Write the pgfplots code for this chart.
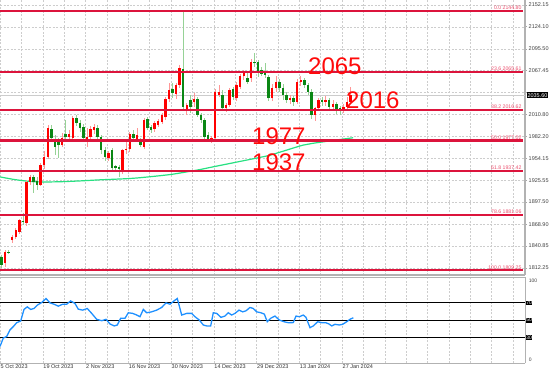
\documentclass[border=0pt]{standalone}
\usepackage{pgfplots}
\pgfplotsset{compat=1.18}
\usepackage{pgfplotstable}
\usepackage{fontspec}
\setmainfont{Liberation Sans}

\definecolor{bullc}{RGB}{255,0,0}
\definecolor{bullw}{RGB}{255,150,150}
\definecolor{bearc}{RGB}{10,135,20}
\definecolor{bearw}{RGB}{150,210,150}
\definecolor{fibc}{RGB}{220,20,60}
\definecolor{fibt}{RGB}{235,80,110}
\definecolor{rsic}{RGB}{30,144,255}
\definecolor{mac}{RGB}{40,225,130}
\definecolor{gridc}{RGB}{205,205,205}
\definecolor{annot}{RGB}{255,10,10}

\pgfplotstableread{
k O H L C
0 1826.8 1829 1812 1816.1
1 1818.3 1835.5 1814 1833.3
2 1833 1835 1830 1832.5
3 1848.4 1855 1845 1852.7
4 1852.7 1864 1850 1861.4
5 1859 1876 1856 1874.3
6 1873.4 1883 1868 1872
7 1870 1926 1866 1923.8
8 1923.8 1933 1920 1929.9
9 1929.9 1933 1909 1923.8
10 1925 1930 1913 1920
11 1920 1948 1918 1945.4
12 1945.4 1963 1940 1956.1
13 1956 1997 1953 1992.8
14 1991.5 1997 1975 1979.9
15 1978.6 1984 1958 1969
16 1977.7 1980 1954 1971.2
17 1971 1987 1968 1980
18 1986 2003 1979 1982
19 1982 1990 1978 1985
20 1979.9 2009 1977 2005.7
21 2006 2010 1996 1999.6
22 1999.6 2003 1988 1993
23 1995 1998 1977 1980
24 1979 1993 1969 1982
25 1981 1996 1976 1991.5
26 1990.6 1998 1986 1994.9
27 1993.2 1997 1978 1981.5
28 1981.5 1984 1960 1964.8
29 1964.8 1968 1950 1955.7
30 1954 1963 1950 1961.3
31 1964.8 1967 1938 1941.1
32 1944 1946 1936.7 1941.5
33 1942.8 1945 1930 1940.2
34 1938.9 1966 1934 1964.8
35 1964.8 1975 1960 1966
36 1966 1988 1962 1985
37 1985 1990 1977 1979.9
38 1978.9 1993 1975 1984
39 1977.7 1980 1968 1971.2
40 1969 2006 1966 2003.5
41 2004.4 2008 1990 1992.8
42 1994.9 1997 1987 1990.6
43 1991.5 2002 1988 1999.2
44 1997 2005 1994 2002.6
45 2001.3 2013 1998 2010
46 2007 2033 2004 2030.3
47 2030.3 2051.3 2027 2042.3
48 2043.2 2051 2032 2038
49 2037.1 2052 2031 2048.8
50 2048.8 2074 2045 2070.3
51 2070 2146 2016 2020.7
52 2016.4 2026 2010 2022.9
53 2029.4 2035.8 2012 2020.7
54 2027.2 2038 2020.7 2030.7
55 2030.7 2033 2008 2010
56 2010 2012 2000 2003.5
57 2003.5 2006 1978 1981.9
58 1984 1988 1976 1979
59 1979 1983 1973.4 1980
60 1980 2043 1976 2040.1
61 2035.8 2048.8 2033 2040.1
62 2035.8 2042 2015 2018.6
63 2018.6 2026 2014 2022.9
64 2023 2045 2020 2042.3
65 2043.2 2046 2030 2033.6
66 2031.6 2052 2028 2048.8
67 2046.5 2063 2044 2060.4
68 2060 2068 2055 2064
69 2057.8 2066 2050 2053
70 2057.4 2082 2053 2078.9
71 2078.9 2090 2072 2076.8
72 2078.5 2081 2059.5 2066
73 2068.1 2072 2060 2063
74 2066 2076.8 2057.4 2061.7
75 2059.5 2062 2028 2031.6
76 2031.6 2050 2028 2044.5
77 2044.5 2060 2040 2052.6
78 2052.6 2057 2040 2044.9
79 2044.9 2050 2030 2035.8
80 2035.8 2040 2025 2029.4
81 2029.4 2036 2024 2032
82 2032 2035 2022 2027.2
83 2027.2 2057 2024 2052.6
84 2052.6 2060 2047 2055.2
85 2055.2 2058 2045 2048.8
86 2048.8 2052 2036 2040.1
87 2040.1 2043 2005 2010
88 2010 2020 2002 2018.6
89 2018.6 2032 2015 2029.4
90 2029.4 2033 2022 2026.8
91 2026.8 2035 2022 2029.4
92 2029.4 2032 2017 2020.7
93 2020.7 2030 2016 2024.2
94 2024.2 2027 2011 2016.4
95 2019 2022 2010 2015.5
96 2016.4 2024 2012 2020.7
97 2020.7 2033 2017 2027.2
98 2027.2 2046 2024 2035.6
}\candles

\pgfplotstableread{
k ma
-0.42 1930
3.8 1926.5
8.84 1923.8
13.6 1923.5
18.1 1924
22.9 1925
27.6 1926.2
36.9 1928.2
46.2 1932.4
50.1 1935
55.7 1939.5
59.4 1943
68.9 1951.8
75.4 1958
78.2 1962
84.6 1971
87.4 1973.4
94.1 1977.7
98.7 1980.6
}\mavg

\pgfplotstableread{
k r
-0.42 19.3
0.51 29
1.46 30.8
2.39 38.5
3.31 42.3
4.27 46.9
5.39 48.8
6.32 62.3
7.24 65.3
8.2 62.3
9.12 63.4
10.05 67.3
11.28 70.3
12.49 75
13.61 69.9
14.74 68.4
15.94 66.1
17.18 68.4
18.3 68.4
19.42 72.2
20.63 69.2
21.56 62.6
22.79 61.5
24.08 63.4
25.32 57.7
26.72 50.8
28.13 49.2
29.33 50.8
30.46 45.4
31.66 43.1
32.5 44.2
33.46 52
34.67 52
35.59 58.4
36.83 57.7
37.95 55.8
38.88 53.8
39.8 62.3
40.76 58.4
42.16 59.5
43.56 61.5
44.97 64.6
46.18 69.9
47.3 68.4
48.42 72.2
49.35 75
50.58 55.8
51.99 57.7
53.39 57.7
54.32 53.8
55.52 50
56.65 44.2
57.6 43.1
58.72 43.1
59.45 58.4
60.41 57.7
61.61 53.1
62.74 54.6
63.66 58.4
64.62 55.8
65.54 57.7
66.67 61.5
67.71 59.5
68.63 60.7
69.75 64.6
70.68 63.4
71.64 59.5
72.84 58.4
73.77 56.9
74.61 48
75.56 52
76.77 54.6
77.98 50
79.3 48
80.5 46.9
81.91 47
82.67 54.6
83.59 53.8
84.72 55.8
85.47 53.1
86.6 41.1
87.52 43.1
88.76 48
89.88 46.9
91 46.9
91.93 45.4
92.69 43.1
93.61 45
94.82 44.2
95.77 45
96.9 48
97.82 50.8
98.75 52.6
}\rsi

\pgfplotsset{
  wick/.style={draw=none, mark=none, forget plot,
    error bars/y dir=both, error bars/y explicit, error bars/error mark=none,
    error bars/error bar style={draw=#1, line width=0.6pt, solid}},
  body/.style={draw=none, mark=none, forget plot,
    error bars/y dir=plus, error bars/y explicit, error bars/error mark=none,
    error bars/error bar style={draw=#1, line width=2.4pt, solid}},
}

\begin{document}
\begin{tikzpicture}
\useasboundingbox (0pt,0pt) rectangle (554pt,-376pt);
\begin{axis}[
  at={(0pt,0pt)}, anchor=north west,
  width=525pt, height=275pt, scale only axis,
  xmin=-0.42, xmax=146.95, ymin=1803.2, ymax=2158.61,
  axis x line*=bottom, axis y line*=right,
  axis line style={draw=gray!60, line width=1.2pt},
  xtick={-0.42,5.58,...,143.58}, xticklabels={},
  ytick={2152.15,2124.10,2095.50,2067.45,2039.10,2010.80,1982.20,1954.15,1925.55,1897.50,1868.90,1840.85,1812.25},
  yticklabels={2152.15,2124.10,2095.50,2067.45,,2010.80,1982.20,1954.15,1925.55,1897.50,1868.90,1840.85,1812.25},
  yticklabel style={font=\fontsize{5.5}{6}\selectfont, text=black!75, inner sep=0pt, xshift=1.5pt},
  major tick length=2pt, tick style={draw=gray!70, line width=0.5pt}, tick align=outside,
  x tick style={draw=none},
  xmajorgrids, ymajorgrids,
  grid style={draw=gridc, dash pattern=on 2pt off 1.5pt, line width=0.4pt},
]
% current price line
\addplot[gray!40, line width=0.6pt] coordinates {(-0.42,2035.6) (146.95,2035.6)};
% moving average
\addplot[mac, line width=1.2pt, smooth] table[x=k, y=ma] {\mavg};
% wicks
\addplot[wick=bullw, restrict expr to domain={\thisrow{C}-\thisrow{O}}{0:10000}]
  table[x=k, y expr={(\thisrow{H}+\thisrow{L})/2}, y error expr={(\thisrow{H}-\thisrow{L})/2}] {\candles};
\addplot[wick=bearw, restrict expr to domain={\thisrow{C}-\thisrow{O}}{-10000:-0.0001}]
  table[x=k, y expr={(\thisrow{H}+\thisrow{L})/2}, y error expr={(\thisrow{H}-\thisrow{L})/2}] {\candles};
% bodies
\addplot[body=bullc, restrict expr to domain={\thisrow{C}-\thisrow{O}}{0:10000}]
  table[x=k, y=O, y error expr={max(\thisrow{C}-\thisrow{O},0.8)}] {\candles};
\addplot[body=bearc, restrict expr to domain={\thisrow{C}-\thisrow{O}}{-10000:-0.0001}]
  table[x=k, y=C, y error expr={max(\thisrow{O}-\thisrow{C},0.8)}] {\candles};
% fibonacci levels
\addplot[fibc, line width=2.2pt] coordinates {(-0.42,2144.80) (146.4,2144.80)};
\addplot[fibc, line width=2.2pt] coordinates {(-0.42,2065.61) (146.4,2065.61)};
\addplot[fibc, line width=2.2pt] coordinates {(-0.42,2016.62) (146.4,2016.62)};
\addplot[fibc, line width=2.2pt] coordinates {(-0.42,1977.02) (146.4,1977.02)};
\addplot[fibc, line width=2.2pt] coordinates {(-0.42,1937.42) (146.4,1937.42)};
\addplot[fibc, line width=2.2pt] coordinates {(-0.42,1881.06) (146.4,1881.06)};
\addplot[fibc, line width=2.2pt] coordinates {(-0.42,1809.25) (146.4,1809.25)};
\end{axis}

\begin{axis}[
  at={(0pt,-277pt)}, anchor=north west,
  width=525pt, height=86pt, scale only axis,
  xmin=-0.42, xmax=146.95, ymin=0, ymax=100,
  axis x line*=bottom, axis y line*=right,
  axis line style={draw=gray!60, line width=0.8pt},
  xtick={-0.42,5.58,...,143.58},
  xticklabels={5 Oct 2023,,19 Oct 2023,,2 Nov 2023,,16 Nov 2023,,30 Nov 2023,,14 Dec 2023,,29 Dec 2023,,13 Jan 2024,,27 Jan 2024},
  xticklabel style={font=\fontsize{5.5}{6}\selectfont, text=black!80, anchor=north west, inner sep=0pt, xshift=0.5pt, yshift=-1pt},
  ytick=\empty,
  major tick length=0pt,
  xmajorgrids,
  grid style={draw=gridc, dash pattern=on 2pt off 1.5pt, line width=0.4pt},
]
\addplot[black, line width=1pt] coordinates {(-0.42,70) (146.95,70)};
\addplot[black, line width=1pt] coordinates {(-0.42,50) (146.95,50)};
\addplot[black, line width=1pt] coordinates {(-0.42,30) (146.95,30)};
\addplot[rsic, line width=1.3pt] table[x=k, y=r] {\rsi};
\end{axis}

% top border of RSI pane
\draw[gray!60, line width=0.8pt] (0pt,-277pt) -- (525pt,-277pt);

% fib labels
\begin{scope}[every node/.style={anchor=south east, inner sep=0.3pt, text=fibt, font=\fontsize{5.2}{5.5}\selectfont}]
\node at (522pt,-10.0pt) {0.0 2144.80};
\node at (522pt,-71.3pt) {23.6 2065.61};
\node at (522pt,-109.2pt) {38.2 2016.62};
\node at (522pt,-139.8pt) {50.0 1977.02};
\node at (522pt,-170.4pt) {61.8 1937.42};
\node at (522pt,-214.1pt) {78.6 1881.06};
\node at (522pt,-269.6pt) {100.0 1809.25};
\end{scope}

% big annotations
\begin{scope}[every node/.style={anchor=base west, inner sep=0pt, text=annot, font=\fontsize{24}{24}\selectfont}]
\node at (308pt,-74pt) {2065};
\node at (346pt,-108.3pt) {2016};
\node at (252pt,-144pt) {1977};
\node at (252pt,-170.7pt) {1937};
\end{scope}

% price tag
\node[fill=black, text=white, anchor=west, inner sep=0.8pt, font=\fontsize{5.5}{6}\selectfont] at (526.5pt,-95.2pt) {2035.60};

% RSI scale labels
\begin{scope}[every node/.style={inner sep=0.6pt, font=\fontsize{5}{5.5}\selectfont}]
\node[anchor=west, text=black!75] at (528pt,-281pt) {100};
\node[anchor=west, fill=black, text=white] at (525.5pt,-303pt) {70};
\node[anchor=west, fill=black, text=white] at (525.5pt,-320.2pt) {50};
\node[anchor=west, fill=black, text=white] at (525.5pt,-337.5pt) {30};
\node[anchor=west, text=black!75] at (528pt,-360pt) {0};
\end{scope}
\end{tikzpicture}
\end{document}
